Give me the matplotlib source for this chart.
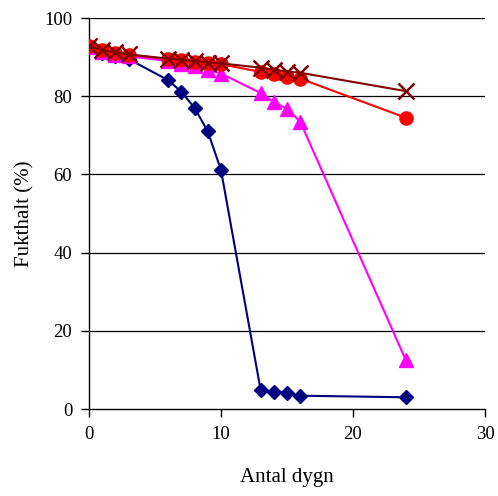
import matplotlib
matplotlib.use("Agg")
import matplotlib.pyplot as plt

days = [0, 1, 2, 3, 6, 7, 8, 9, 10, 13, 14, 15, 16, 24]

navy_vals = [92.7, 91.0, 90.2, 89.5, 84.1, 81.1, 77.0, 71.0, 61.1, 4.9, 4.4, 4.1, 3.4, 3.0]
magenta_vals = [92.5, 91.3, 90.6, 90.2, 89.0, 88.3, 87.6, 86.8, 85.8, 80.8, 78.5, 76.8, 73.5, 12.5]
red_vals = [92.8, 91.7, 91.1, 90.6, 89.5, 89.2, 88.8, 88.5, 88.2, 86.2, 85.6, 85.0, 84.5, 74.5]
darkred_vals = [92.8, 91.8, 91.2, 90.7, 89.6, 89.3, 89.0, 88.6, 88.4, 87.3, 86.8, 86.3, 86.0, 81.3]

x_ticks = [0, 10, 20, 30]
y_ticks = [0, 20, 40, 60, 80, 100]

plt.rcParams["font.family"] = ["Liberation Serif", "DejaVu Serif"]

fig = plt.figure(figsize=(4.98, 4.96), dpi=100)
ax = fig.add_axes([0.1787, 0.1754, 0.7952, 0.7883])

for y in y_ticks[1:]:
    ax.axhline(y, color="black", linewidth=0.9, zorder=1)

ax.plot(days, navy_vals, color="#000080", marker="D", markersize=7.5, linewidth=1.5, zorder=3)
ax.plot(days, magenta_vals, color="#FF00FF", marker="^", markersize=9.5, linewidth=1.5, zorder=4)
ax.plot(days, red_vals, color="#FF0000", marker="o", markersize=9.5, linewidth=1.5, zorder=5)
ax.plot(days, darkred_vals, color="#800000", marker="x", markersize=11, markeredgewidth=1.8,
        linewidth=1.5, zorder=6)

ax.set_xlim(0, 30)
ax.set_ylim(0, 100)
ax.set_xticks(x_ticks)
ax.set_yticks(y_ticks)
ax.tick_params(labelsize=13.5, direction="out", length=6, width=1, pad=6)
for s in ["top", "right"]:
    ax.spines[s].set_visible(False)
for s in ["left", "bottom"]:
    ax.spines[s].set_linewidth(1)
ax.set_xlabel("Antal dygn", fontsize=15, labelpad=18)
ax.set_ylabel("Fukthalt (%)", fontsize=15, labelpad=7)

fig.savefig("out.png", dpi=100)
